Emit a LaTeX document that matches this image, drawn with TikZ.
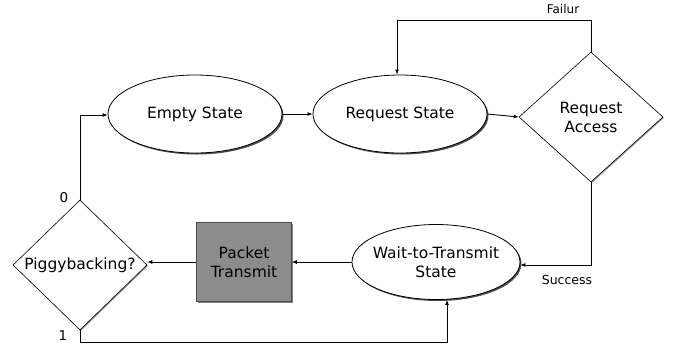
\documentclass[tikz,border=0pt]{standalone}
\usepackage{fontspec}
\setmainfont{DejaVu Sans}
\usetikzlibrary{shapes.geometric,arrows.meta,shadows}
\begin{document}
\begin{tikzpicture}[x=1pt,y=-1pt,
  font=\fontsize{15.5}{19}\selectfont,
  line/.style={draw=black, line width=0.9pt},
  arr/.style={line, -{Latex[length=5pt,width=4pt]}},
  state/.style={ellipse, draw=black, line width=0.8pt, fill=white, inner sep=0pt,
    drop shadow={shadow xshift=1.5pt, shadow yshift=-1.5pt, fill=black!70, opacity=1}},
  decide/.style={diamond, draw=black, line width=0.6pt, fill=white, inner sep=0pt,
    align=center, drop shadow={shadow xshift=1pt, shadow yshift=-1pt, fill=black!40, opacity=1}},
  procbox/.style={rectangle, draw=black!70, line width=0.6pt, fill=black!45, align=center,
    inner sep=0pt, drop shadow={shadow xshift=1.5pt, shadow yshift=-1.5pt, fill=black!50, opacity=1}},
  lab/.style={inner sep=0pt}]
\useasboundingbox (0,0) rectangle (680,349);
\fill[white] (0,0) rectangle (680,349);

\node[state, minimum width=174pt, minimum height=78pt] (empty) at (195,114) {\makebox[0pt]{Empty State}};
\node[state, minimum width=174pt, minimum height=78pt] (req) at (400,114) {\makebox[0pt]{Request State}};
\node[decide, minimum width=144pt, minimum height=130pt] (acc) at (591,117) {\makebox[0pt]{Request}\\\makebox[0pt]{Access}};
\node[state, minimum width=168pt, minimum height=75pt, align=center] (wait) at (436,262) {\makebox[0pt]{Wait-to-Transmit}\\\makebox[0pt]{State}};
\node[procbox, minimum width=95pt, minimum height=79pt] (pkt) at (244,262) {\makebox[0pt]{Packet}\\\makebox[0pt]{Transmit}};
\node[decide, minimum width=134pt, minimum height=130pt] (pig) at (80,265) {\makebox[0pt]{Piggybacking?}};

\coordinate (ftop) at (591,20);
\coordinate (fleft) at (397,20);
\coordinate (scorner) at (591,265);
\coordinate (zcorner) at (80,115);
\coordinate (ocorner) at (80,342);
\coordinate (oright) at (447,342);

\draw[arr] (empty.east) -- (req.west);
\draw[arr] (req.east) -- (acc.west);
\draw[arr] (acc.north) -- (ftop) -- (fleft) -- (req.north -| fleft);
\draw[arr] (acc.south) -- (scorner) -- (scorner -| wait.east);
\draw[arr] (wait.west |- pkt.east) -- (pkt.east);
\draw[arr] (pkt.west) -- (pig.east |- pkt.west);
\draw[arr] (pig.north) -- (zcorner) -- (empty.west |- zcorner);
\draw[arr] (pig.south) -- (ocorner) -- (oright) -- (wait.south -| oright);

\node[lab, font=\fontsize{12}{14}\selectfont] (flab) at (563,9) {Failur};
\node[lab, font=\fontsize{12.5}{14}\selectfont] (slab) at (567,280) {Success};
\node[lab, font=\fontsize{13.5}{15}\selectfont] (zlab) at (64,198) {0};
\node[lab, font=\fontsize{13.5}{15}\selectfont] (olab) at (63,336) {1};
\end{tikzpicture}
\end{document}
